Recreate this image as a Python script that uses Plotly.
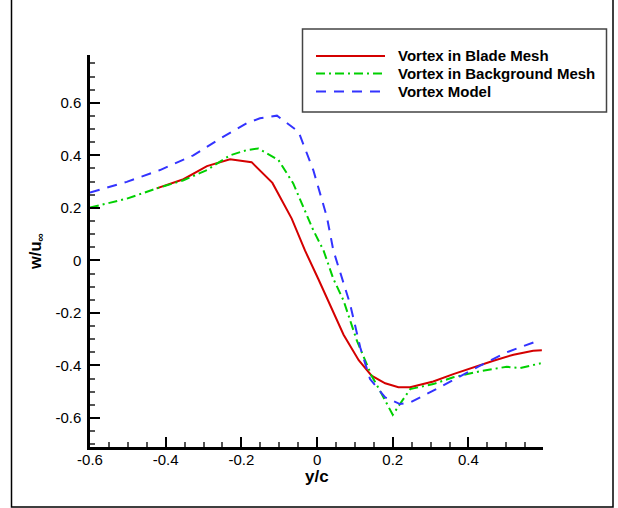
import plotly.graph_objects as go

# ---- data ----
blade_x = [-0.424, -0.353, -0.291, -0.230, -0.173, -0.118, -0.067, -0.032, 0.003, 0.026,
           0.070, 0.110, 0.144, 0.180, 0.215, 0.246, 0.307, 0.360, 0.413, 0.466, 0.519, 0.571, 0.594]
blade_y = [0.274, 0.309, 0.359, 0.385, 0.374, 0.295, 0.159, 0.038, -0.070, -0.145,
           -0.283, -0.380, -0.439, -0.468, -0.483, -0.483, -0.461, -0.433, -0.407, -0.382, -0.359, -0.344, -0.342]

bg_x = [-0.600, -0.503, -0.424, -0.353, -0.291, -0.230, -0.186, -0.155, -0.102, -0.063, -0.010,
        0.017, 0.043, 0.070, 0.105, 0.127, 0.144, 0.166, 0.200, 0.219, 0.246, 0.307, 0.360,
        0.431, 0.501, 0.536, 0.591]
bg_y = [0.201, 0.235, 0.274, 0.305, 0.344, 0.400, 0.420, 0.426, 0.382, 0.293, 0.115,
        0.038, -0.070, -0.153, -0.305, -0.382, -0.439, -0.496, -0.588, -0.547, -0.490, -0.471, -0.445,
        -0.422, -0.405, -0.410, -0.392]

model_x = [-0.600, -0.503, -0.415, -0.327, -0.256, -0.186, -0.151, -0.106, -0.049, -0.010, 0.026,
           0.043, 0.087, 0.114, 0.140, 0.180, 0.219, 0.246, 0.307, 0.369, 0.431, 0.501, 0.580]
model_y = [0.258, 0.299, 0.344, 0.400, 0.464, 0.522, 0.541, 0.551, 0.490, 0.344, 0.165,
           0.038, -0.165, -0.331, -0.452, -0.522, -0.547, -0.541, -0.496, -0.448, -0.401, -0.350, -0.308]

series_names = ["Vortex in Blade Mesh", "Vortex in Background Mesh", "Vortex Model"]
series_colors = ["#d40000", "#00d000", "#3333ff"]
series_dash = ["solid", "9px,4px,2px,4px", "10px,8px"]

x_ticks = [-0.6, -0.4, -0.2, 0, 0.2, 0.4]
x_tick_labels = ["-0.6", "-0.4", "-0.2", "0", "0.2", "0.4"]
y_ticks = [-0.6, -0.4, -0.2, 0, 0.2, 0.4, 0.6]
y_tick_labels = ["-0.6", "-0.4", "-0.2", "0", "0.2", "0.4", "0.6"]

FONT = "Liberation Sans, Arial, sans-serif"

fig = go.Figure()
for xs, ys, name, col, dash in zip([blade_x, bg_x, model_x], [blade_y, bg_y, model_y],
                                   series_names, series_colors, series_dash):
    fig.add_trace(go.Scatter(x=xs, y=ys, mode="lines", name=name,
                             line=dict(color=col, width=2, dash=dash), showlegend=False))

W, H = 618, 508
L, R, T, B = 90, 75, 55, 61

fig.update_layout(
    width=W, height=H,
    margin=dict(l=L, r=R, t=T, b=B, pad=0),
    paper_bgcolor="white", plot_bgcolor="white",
    font=dict(family=FONT, size=15, color="black"),
    showlegend=False,
)
fig.update_xaxes(
    range=[-0.6, 0.597], showgrid=False, zeroline=False,
    showline=True, linecolor="black", linewidth=2.5,
    tickmode="array", tickvals=x_ticks, ticktext=x_tick_labels,
    ticks="inside", ticklen=10, tickwidth=2, tickcolor="black",
    minor=dict(dtick=0.05, tick0=0, ticks="inside", ticklen=5, tickwidth=1.5, tickcolor="#555"),
    tickfont=dict(size=15), ticklabelstandoff=-3,
)
fig.update_yaxes(
    range=[-0.7105, 0.782], showgrid=False, zeroline=False,
    showline=True, linecolor="black", linewidth=2.5,
    tickmode="array", tickvals=y_ticks, ticktext=y_tick_labels,
    ticks="inside", ticklen=10, tickwidth=2, tickcolor="black",
    minor=dict(dtick=0.05, tick0=0, ticks="inside", ticklen=5, tickwidth=1.5, tickcolor="#555"),
    tickfont=dict(size=15), ticklabelstandoff=3,
)


def to_px_paper_x(p):
    return (p - L) / (W - L - R)


def to_px_paper_y(p):
    return (H - B - p) / (H - T - B)


shapes = []
# outer frame
shapes.append(dict(type="rect", xref="paper", yref="paper",
                   x0=to_px_paper_x(11.5), x1=to_px_paper_x(613),
                   y0=to_px_paper_y(507), y1=to_px_paper_y(-2),
                   line=dict(color="black", width=1.5)))
# legend box
shapes.append(dict(type="rect", xref="paper", yref="paper",
                   x0=to_px_paper_x(302.5), x1=to_px_paper_x(606.5),
                   y0=to_px_paper_y(112), y1=to_px_paper_y(29),
                   fillcolor="white", line=dict(color="#444", width=1.5), layer="above"))
annotations = []
legend_y = [56, 73.5, 91.5]
for ly, name, col, dash in zip(legend_y, series_names, series_colors, series_dash):
    shapes.append(dict(type="line", xref="paper", yref="paper",
                       x0=to_px_paper_x(316), x1=to_px_paper_x(385),
                       y0=to_px_paper_y(ly), y1=to_px_paper_y(ly),
                       line=dict(color=col, width=2, dash=dash), layer="above"))
    annotations.append(dict(xref="paper", yref="paper", x=to_px_paper_x(396), y=to_px_paper_y(ly),
                            xanchor="left", yanchor="middle", showarrow=False,
                            text="<b>%s</b>" % name, font=dict(size=15, family=FONT)))

annotations.append(dict(xref="paper", yref="paper", x=to_px_paper_x(317), y=to_px_paper_y(476),
                        xanchor="center", yanchor="middle", showarrow=False,
                        text="<b>y/c</b>", font=dict(size=17, family=FONT)))
annotations.append(dict(xref="paper", yref="paper", x=to_px_paper_x(36), y=to_px_paper_y(252),
                        xanchor="center", yanchor="middle", showarrow=False, textangle=-90,
                        text="<b>w/u<sub>∞</sub></b>", font=dict(size=16.5, family=FONT)))

fig.update_layout(shapes=shapes, annotations=annotations)
fig.write_html("out.html")
